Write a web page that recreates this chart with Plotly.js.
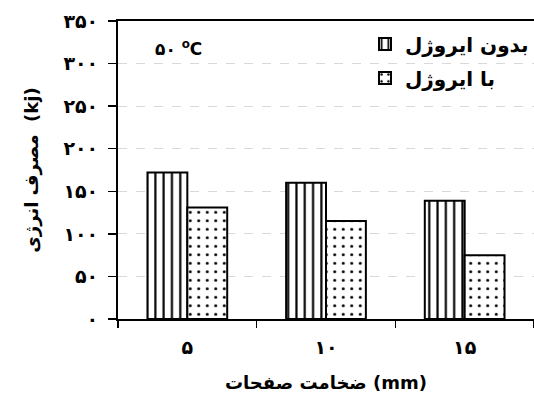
<!DOCTYPE html>
<html>
<head>
<meta charset="utf-8">
<script src="https://cdn.plot.ly/plotly-3.0.1.min.js"></script>
<style>html,body{margin:0;padding:0;background:#fff;}#chart{width:534px;height:400px;}</style>
</head>
<body>
<div id="chart"></div>
<script>
var categories = ['۵', '۱۰', '۱۵'];
var seriesNames = ['بدون ایروژل', 'با ایروژل'];
var withoutAerogel = [172, 160, 139];
var withAerogel = [131, 115, 75];
var yTickValues = [0, 50, 100, 150, 200, 250, 300, 350];
var yTickLabels = ['۰', '۵۰', '۱۰۰', '۱۵۰', '۲۰۰', '۲۵۰', '۳۰۰', '۳۵۰'];
var xTitle = 'ضخامت صفحات (mm)';
var yTitle = 'مصرف انرژی  (kj)';
var tempLabel = '۵۰ <sup>o</sup>C';

var FONT = 'DejaVu Sans';

var traces = [
  {
    type: 'bar', x: categories, y: withoutAerogel, name: seriesNames[0],
    legend: 'legend',
    marker: {color: '#ffffff', line: {color: '#000', width: 2},
      pattern: {shape: '|', fgcolor: '#000', fgopacity: 1, bgcolor: '#fff', size: 8.3, solidity: 0.26, fillmode: 'overlay'}}
  },
  {
    type: 'bar', x: categories, y: withAerogel, name: seriesNames[1],
    legend: 'legend2',
    marker: {color: '#ffffff', line: {color: '#000', width: 2},
      pattern: {shape: '.', fgcolor: '#000', fgopacity: 1, bgcolor: '#fff', size: 8.5, solidity: 0.1, fillmode: 'overlay'}}
  }
];

var legendFont = {family: FONT, size: 20, color: '#000', weight: 'bold'};

var layout = {
  width: 534, height: 400,
  margin: {l: 118, r: 0, t: 21, b: 81},
  paper_bgcolor: '#fff', plot_bgcolor: '#fff',
  font: {family: FONT, color: '#000'},
  barmode: 'group', bargap: 0.425, bargroupgap: 0,
  showlegend: true,
  legend: {x: 1, xanchor: 'right', y: 0.923, yanchor: 'middle', bgcolor: 'rgba(0,0,0,0)', font: legendFont, itemwidth: 30},
  legend2: {x: 1, xanchor: 'right', y: 0.809, yanchor: 'middle', bgcolor: 'rgba(0,0,0,0)', font: legendFont, itemwidth: 30},
  xaxis: {
    type: 'category', tickson: 'boundaries', ticks: 'outside', ticklen: 7, tickwidth: 1.5, tickcolor: '#000',
    showline: true, linecolor: '#000', linewidth: 2, mirror: true, showgrid: false,
    ticklabelstandoff: 10,
    tickfont: {family: FONT, size: 19, weight: 'bold', color: '#000'},
    title: {text: xTitle, font: {family: FONT, size: 18, weight: 'bold', color: '#000'}, standoff: 20},
    fixedrange: true
  },
  yaxis: {
    range: [0, 350], tickvals: yTickValues, ticktext: yTickLabels,
    ticks: 'outside', ticklen: 8, tickwidth: 1.5, tickcolor: '#000',
    showline: true, linecolor: '#000', linewidth: 2,
    showgrid: true, gridcolor: '#d9d9d9', griddash: 'dash', gridwidth: 1, zeroline: false,
    ticklabelstandoff: 6,
    tickfont: {family: FONT, size: 19, weight: 'bold', color: '#000'},
    title: {text: yTitle, font: {family: FONT, size: 18, weight: 'bold', color: '#000'}, standoff: 20},
    fixedrange: true
  },
  annotations: [
    {xref: 'paper', yref: 'paper', x: 0.145, y: 0.91, xanchor: 'center', yanchor: 'middle',
     text: tempLabel, showarrow: false, font: {family: FONT, size: 17, weight: 'bold', color: '#000'}}
  ]
};

var gd = document.getElementById('chart');
Plotly.newPlot(gd, traces, layout, {displayModeBar: false, staticPlot: true}).then(function () {
  var fl = gd._fullLayout;
  var w1 = fl.legend && fl.legend._width;
  if (w1) {
    var plotW = fl._size.w;
    var leftFrac = 1 - w1 / plotW;
    return Plotly.relayout(gd, {'legend2.x': leftFrac, 'legend2.xanchor': 'left'});
  }
});
</script>
</body>
</html>
